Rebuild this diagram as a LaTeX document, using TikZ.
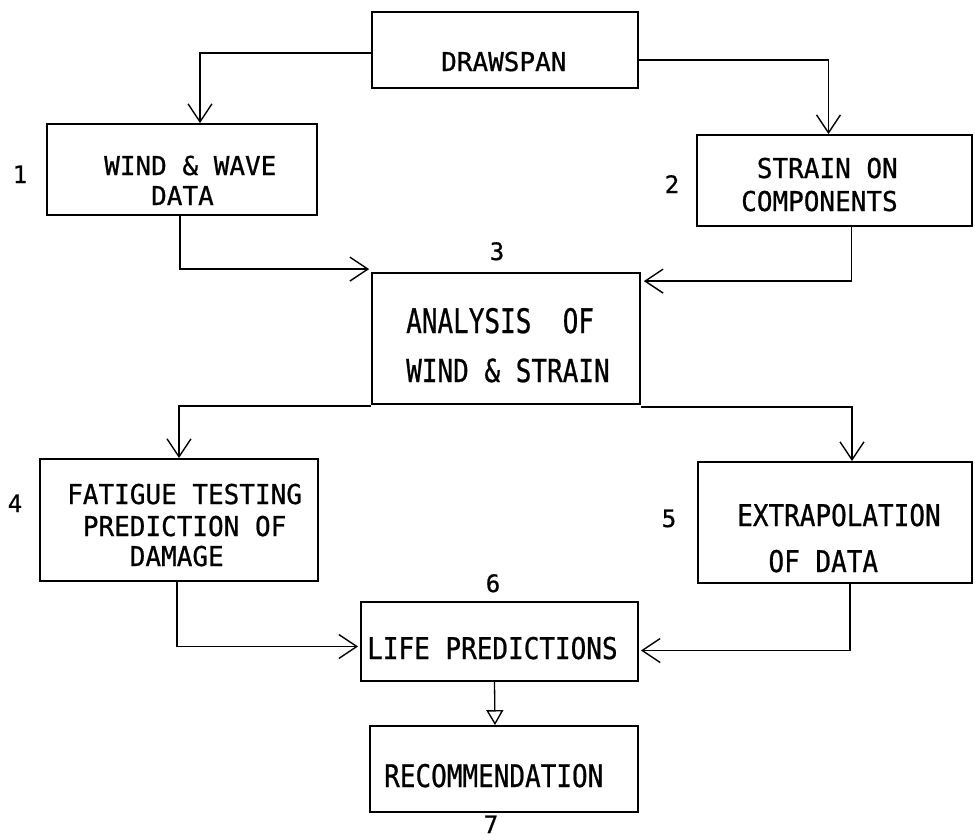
\documentclass[tikz,border=0pt]{standalone}
\usepackage{graphicx}
\usepackage{fontspec}
\newfontfamily\tw[FakeBold=0.8]{DejaVu Sans Mono}
\usetikzlibrary{arrows.meta,calc}
\begin{document}
\begin{tikzpicture}[x=1pt,y=-1pt,
  box/.style={draw, line width=1.8pt, inner sep=0pt},
  conn/.style={line width=1.3pt},
  arr/.style={conn, -{Straight Barb[length=18pt,width=24pt,line width=1.4pt]}},
  tri/.style={conn, -{Triangle[open,length=15pt,width=17pt,line width=1.4pt]}},
  txt/.style={font=\tw\fontsize{26}{26}\selectfont, anchor=base west, inner sep=0pt},
  num/.style={font=\tw\fontsize{24}{24}\selectfont, anchor=base, inner sep=0pt}]
\useasboundingbox (0,0) rectangle (975,839);

% boxes
\node[box, minimum width=266pt, minimum height=76pt]  (drawspan) at (505,50) {};
\node[box, minimum width=270pt, minimum height=91pt]  (wind)     at (182,169.5) {};
\node[box, minimum width=275pt, minimum height=91pt]  (strain)   at (834.5,180.5) {};
\node[box, minimum width=268pt, minimum height=131pt] (analysis) at (506,338.5) {};
\node[box, minimum width=278pt, minimum height=122pt] (fatigue)  at (179,520) {};
\node[box, minimum width=274pt, minimum height=121pt] (extrap)   at (835,522.5) {};
\node[box, minimum width=277pt, minimum height=79pt]  (life)     at (499.5,641.5) {};
\node[box, minimum width=268pt, minimum height=86pt]  (recomm)   at (504,769) {};

% texts
\node[txt] (t0)  at (441,71)  {DRAWSPAN};
\node[txt] (t1a) at (104,175) {WIND \& WAVE};
\node[txt] (t1b) at (104,205) {\hphantom{XXX}DATA};
\node[txt] (t2a) at (741,178) {\scalebox{1}[1.05]{\hphantom{X}STRAIN ON}};
\node[txt] (t2b) at (741,211) {\scalebox{1}[1.05]{COMPONENTS}};
\node[txt] (t3a) at (406,333) {\scalebox{1}[1.3]{ANALYSIS\hphantom{X} OF}};
\node[txt] (t3b) at (406,382) {\scalebox{1}[1.22]{WIND \& STRAIN}};
\node[txt] (t4a) at (67,504)  {\scalebox{1}[1.05]{FATIGUE TESTING}};
\node[txt] (t4b) at (67,536)  {\scalebox{1}[1.05]{\hphantom{X}PREDICTION OF}};
\node[txt] (t4c) at (67,566)  {\scalebox{1}[1.05]{\hphantom{XXXX}DAMAGE}};
\node[txt] (t5a) at (737,526) {\scalebox{1}[1.15]{EXTRAPOLATION}};
\node[txt] (t5b) at (737,572) {\scalebox{1}[1.15]{\hphantom{XX}OF DATA}};
\node[txt] (t6)  at (367,659) {\scalebox{1}[1.15]{LIFE PREDICTIONS}};
\node[txt] (t7)  at (384,787) {\scalebox{1}[1.2]{RECOMMENDATION}};

% numbers
\node[num] (n1) at (20,183)  {1};
\node[num] (n2) at (672,193) {2};
\node[num] (n3) at (497,260) {3};
\node[num] (n4) at (15,512)  {4};
\node[num] (n5) at (669,527) {5};
\node[num] (n6) at (493,592) {6};
\node[num] (n7) at (491,833) {7};

% connectors
\draw[arr] ($(drawspan.west)+(0,3)$) -| ($(wind.north)+(18,0)$);
\draw[arr] ($(drawspan.east)+(0,10)$) -| ($(strain.north)+(-6,0)$);
\draw[arr] ($(wind.south)+(-2,0)$) |- ($(analysis.north west)+(-2,-3)$);
\draw[arr] ($(strain.south)+(17,0)$) |- ($(analysis.north east)+(3,9)$);
\draw[arr] ($(analysis.south west)+(0,1)$) -| (fatigue.north);
\draw[arr] ($(analysis.south east)+(0,2)$) -| ($(extrap.north)+(17,0)$);
\draw[arr] ($(fatigue.south)+(-2,0)$) |- ($(life.west)+(-2,5)$);
\draw[arr] ($(extrap.south)+(15,0)$) |- ($(life.east)+(2,9)$);
\draw[tri] ($(life.south)+(-5,0)$) -- ($(recomm.north)+(-9,0)$);
\end{tikzpicture}
\end{document}
